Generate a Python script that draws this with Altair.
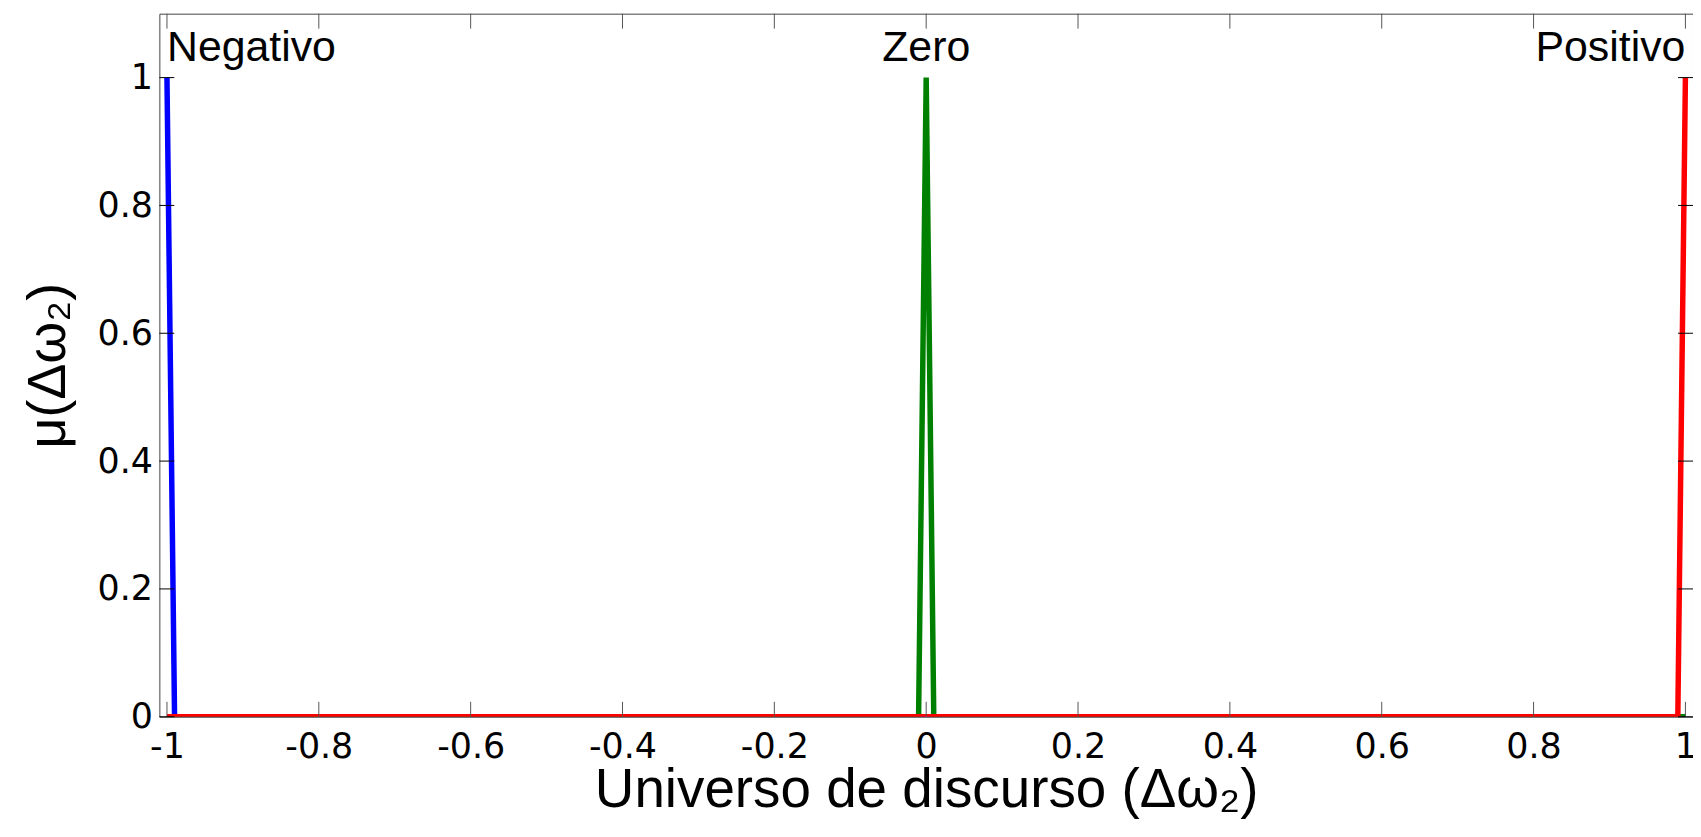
import altair as alt
import pandas as pd

# ---- data ----
x_ticks = [-1, -0.8, -0.6, -0.4, -0.2, 0, 0.2, 0.4, 0.6, 0.8, 1]
y_ticks = [0, 0.2, 0.4, 0.6, 0.8, 1]

neg_x = [-1, -0.99, 1]
neg_y = [1, 0, 0]
zero_x = [-1, -0.01, 0, 0.01, 1]
zero_y = [0, 0, 1, 0, 0]
pos_x = [-1, 0.99, 1]
pos_y = [0, 0, 1]

series_names = ["Negativo", "Zero", "Positivo"]
series_colors = ["#0000FF", "#008000", "#FF0000"]
label_x = [-1, 0, 1]
label_y = [1, 1, 1]

x_title = "Universo de discurso (Δω₂)"
y_title = "μ(Δω₂)"

# ---- tables ----
rows = []
for name, xs_, ys_ in zip(series_names, [neg_x, zero_x, pos_x], [neg_y, zero_y, pos_y]):
    for i, (a, b) in enumerate(zip(xs_, ys_)):
        rows.append({"series": name, "x": a, "y": b, "idx": i})
lines_df = pd.DataFrame(rows)
labels_df = pd.DataFrame({"series": series_names, "x": label_x, "y": label_y})
xt_df = pd.DataFrame({"v": x_ticks})
yt_df = pd.DataFrame({"v": y_ticks})

W, H = 1540, 706
TICK = 15
tick_color = "#555555"
FONT = "Liberation Sans"
TICK_FONT = "DejaVu Sans"

xs = alt.Scale(domain=[-1.01, 1.01], nice=False, zero=False)
ys = alt.Scale(domain=[0, 1.1], nice=False, zero=False)

x_axis = alt.Axis(
    values=x_ticks, ticks=False, domain=False, grid=False,
    labelExpr="'' + datum.value", labelFont=TICK_FONT, labelFontSize=35,
    labelColor="#000000", labelPadding=13, labelFlush=False, labelOverlap=False,
    titleFont=FONT, titleFontSize=55, titleFontWeight="normal", titleColor="#000000",
    titleX=W / 2, titleY=90, titleAlign="center", titleBaseline="alphabetic",
)
y_axis = alt.Axis(
    values=y_ticks, ticks=False, domain=False, grid=False,
    labelExpr="'' + datum.value", labelFont=TICK_FONT, labelFontSize=35,
    labelColor="#000000", labelPadding=7, labelFlush=False, labelOverlap=False,
    titleFont=FONT, titleFontSize=54, titleFontWeight="normal", titleColor="#000000",
    titleAngle=270, titleX=-95, titleY=H / 2, titleAlign="center", titleBaseline="alphabetic",
)


def X(field):
    return alt.X(f"{field}:Q", scale=xs, axis=x_axis, title=x_title)


def Y(field):
    return alt.Y(f"{field}:Q", scale=ys, axis=y_axis, title=y_title)


layers = []
for name, color in zip(series_names, series_colors):
    layers.append(
        alt.Chart(lines_df)
        .transform_filter(alt.datum.series == name)
        .mark_line(color=color, strokeWidth=5.5, clip=True)
        .encode(x=X("x"), y=Y("y"), order="idx:Q")
    )

# inward ticks (MATLAB style)
layers.append(alt.Chart(xt_df).mark_rule(color=tick_color, strokeWidth=1).encode(
    x=X("v"), y=alt.value(H), y2=alt.value(H - TICK)))
layers.append(alt.Chart(xt_df).mark_rule(color=tick_color, strokeWidth=1).encode(
    x=X("v"), y=alt.value(0), y2=alt.value(TICK)))
layers.append(alt.Chart(yt_df).mark_rule(color="#000000", strokeWidth=1).encode(
    y=Y("v"), x=alt.value(0), x2=alt.value(TICK)))
layers.append(alt.Chart(yt_df).mark_rule(color="#000000", strokeWidth=1).encode(
    y=Y("v"), x=alt.value(W - TICK), x2=alt.value(W)))

for name, align in zip(series_names, ["left", "center", "right"]):
    layers.append(
        alt.Chart(labels_df)
        .transform_filter(alt.datum.series == name)
        .mark_text(align=align, baseline="alphabetic", dy=-17, font=FONT, fontSize=43, color="#000000")
        .encode(x=X("x"), y=Y("y"), text="series:N")
    )

chart = (
    alt.layer(*layers)
    .properties(
        width=W, height=H,
        autosize=alt.AutoSizeParams(type="none"),
        padding={"left": 152, "top": 4, "right": 0, "bottom": 110},
        background="white",
    )
    .configure_view(stroke="#444444", strokeWidth=1)
)

chart.save("out.html", embed_options={"renderer": "svg", "actions": False})
